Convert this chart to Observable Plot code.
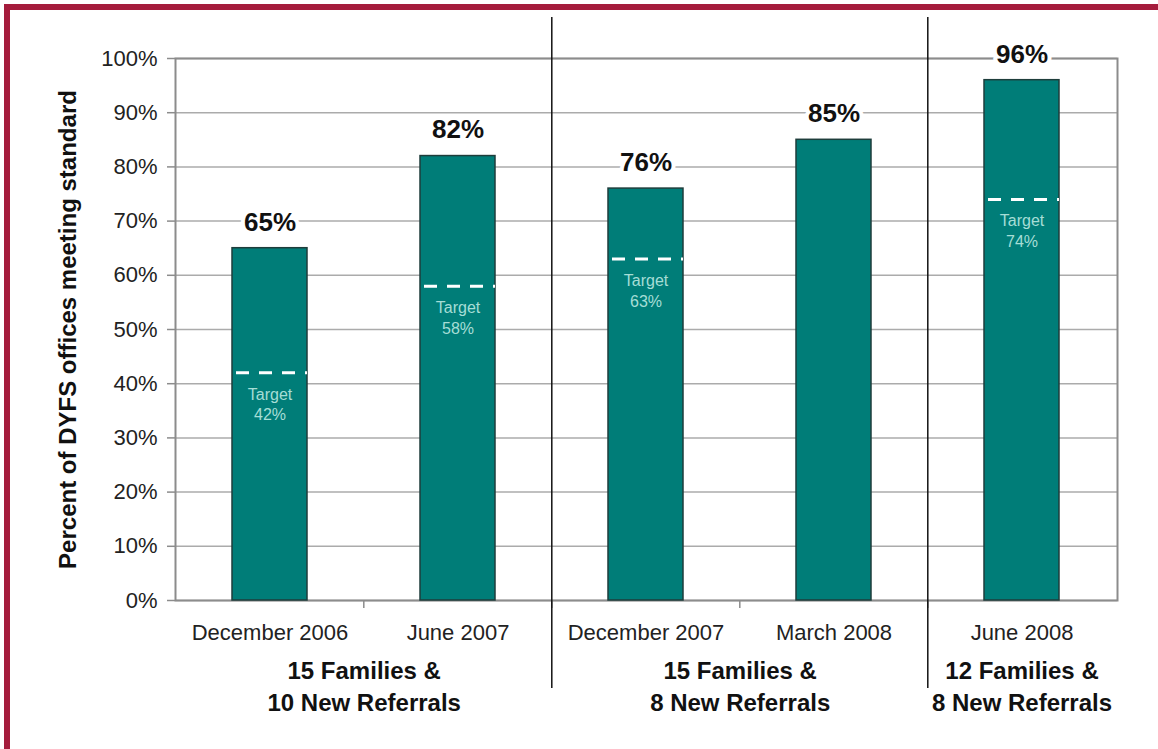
<!DOCTYPE html>
<html>
<head>
<meta charset="utf-8">
<script src="https://cdn.jsdelivr.net/npm/d3@7"></script>
<script src="https://cdn.jsdelivr.net/npm/@observablehq/plot@0.6"></script>
<style>
  html, body { margin: 0; padding: 0; background: #fff; }
  #wrap { position: relative; width: 1158px; height: 749px; overflow: hidden; }
  #border { position: absolute; left: 4px; top: 4px; width: 1200px; height: 800px;
            border-top: 6px solid #a51c3c; border-left: 6px solid #a51c3c; pointer-events: none; }
  svg { font-family: "Liberation Sans", Arial, sans-serif; }
</style>
</head>
<body>
<div id="wrap"><div id="border"></div></div>
<script>
const categories = ["December 2006", "June 2007", "December 2007", "March 2008", "June 2008"];
const values = [65, 82, 76, 85, 96];
const targets = [42, 58, 63, null, 74];
const groupLabels = ["15 Families &\n10 New Referrals", "15 Families &\n8 New Referrals", "12 Families &\n8 New Referrals"];
const groupFirst = [0, 2, 4];
const groupLast = [1, 3, 4];
const yTicks = [0, 10, 20, 30, 40, 50, 60, 70, 80, 90, 100];
const yTitle = "Percent of DYFS offices meeting standard";

const W = 1158, H = 749, mL = 175, mR = 41, mT = 58, mB = 149;
const step = (W - mL - mR) / categories.length;

const bars = categories.map((c, i) => ({cat: c, value: values[i], target: targets[i]}));
const targetRows = bars.filter(d => d.target != null);
const groups = groupLabels.map((g, i) => ({label: g, cat: categories[groupFirst[i]], span: groupLast[i] - groupFirst[i]}));
const separators = groupFirst.slice(1).map(i => categories[i]);
const boundaryCats = categories.slice(1);

const groupMarks = groups.map(g => Plot.text([g], {
  x: "cat", y: () => 0, text: "label", dx: g.span * step / 2, dy: 56,
  lineAnchor: "top", lineHeight: 1.33, fontSize: 24, fontWeight: "bold", fill: "#111"
}));

const chart = Plot.plot({
  width: W, height: H,
  marginLeft: mL, marginRight: mR, marginTop: mT, marginBottom: mB,
  style: {fontFamily: "'Liberation Sans', Arial, sans-serif", background: "transparent", overflow: "visible"},
  x: {domain: categories, paddingInner: 0.6, paddingOuter: 0.3, align: 0.5, axis: null},
  y: {domain: [0, 100], axis: null},
  marks: [
    Plot.gridY(yTicks, {stroke: "#ababab", strokeOpacity: 1, strokeWidth: 1.5}),
    Plot.frame({stroke: "#8c8c8c", strokeWidth: 2}),
    Plot.axisY(yTicks, {tickFormat: d => d + "%", tickSize: 8, tickPadding: 10, fontSize: 22, stroke: "#8c8c8c", strokeWidth: 1.5, color: "#222", label: null}),
    Plot.axisX({tickSize: 0, tickPadding: 24, fontSize: 22, color: "#222", label: null}),
    Plot.ruleX(boundaryCats, {x: d => d, dx: -step / 2, y1: 0, y2: 0, insetTop: 8, stroke: "#8c8c8c", strokeWidth: 1.5}),
    Plot.ruleX(separators, {x: d => d, dx: -step / 2, insetTop: -41, insetBottom: -88, stroke: "#111", strokeWidth: 1.5}),
    Plot.barY(bars, {x: "cat", y: "value", fill: "#007d78", stroke: "#1e3d3b", strokeWidth: 1.5}),
    Plot.tickY(targetRows, {x: "cat", y: "target", stroke: "#ffffff", strokeWidth: 3, strokeDasharray: "13,10", insetLeft: 4}),
    Plot.text(targetRows, {x: "cat", y: "target", text: d => "Target\n" + d.target + "%", lineAnchor: "top", dy: 12, lineHeight: 1.3, fontSize: 16, fill: "#a6ddd6"}),
    Plot.text(bars, {x: "cat", y: "value", text: d => d.value + "%", dy: -26, fontSize: 26, fontWeight: "bold", fill: "#111", stroke: "#fff", strokeWidth: 8}),
    ...groupMarks,
    Plot.text([yTitle], {frameAnchor: "left", textAnchor: "middle", rotate: -90, dx: -107, fontSize: 24, fontWeight: "bold", fill: "#111"})
  ]
});
document.getElementById("wrap").prepend(chart);
</script>
</body>
</html>
